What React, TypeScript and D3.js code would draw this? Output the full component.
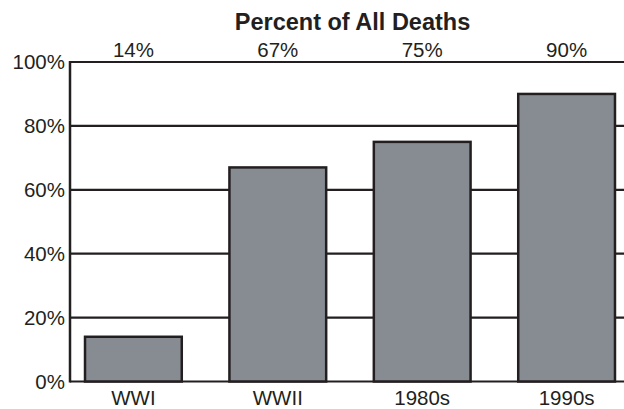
import React, { useEffect, useRef } from 'react';
import * as d3 from 'd3';

const categories = ['WWI', 'WWII', '1980s', '1990s'];
const percents = [14, 67, 75, 90];
const yTicks = [0, 20, 40, 60, 80, 100];
const chartTitle = 'Percent of All Deaths';

const W = 624;
const H = 409;

export default function App() {
  const svgRef = useRef<SVGSVGElement>(null);

  useEffect(() => {
    const svg = d3.select(svgRef.current);
    svg.selectAll('*').remove();

    const left = 70;
    const top = 62;
    const bottom = 381.5;
    const ink = '#231f20';
    const font = 'Liberation Sans, Arial, Helvetica, sans-serif';
    const fs = 20.5;

    const y = d3.scaleLinear().domain([0, 100]).range([bottom, top]);
    const x = d3.scaleBand<string>()
      .domain(categories)
      .range([left, left + 560])
      .paddingInner(0.33)
      .paddingOuter(0.104);

    // grid lines across the whole width
    svg.append('g')
      .selectAll('line')
      .data(yTicks)
      .join('line')
      .attr('x1', left)
      .attr('x2', W)
      .attr('y1', d => y(d))
      .attr('y2', d => y(d))
      .attr('stroke', ink)
      .attr('stroke-width', 2.2);

    // left axis
    svg.append('line')
      .attr('x1', left).attr('x2', left)
      .attr('y1', top - 1).attr('y2', bottom + 1)
      .attr('stroke', ink)
      .attr('stroke-width', 2.5);

    // y tick labels
    svg.append('g')
      .selectAll('text')
      .data(yTicks)
      .join('text')
      .attr('x', left - 5)
      .attr('y', d => y(d) + 7)
      .attr('text-anchor', 'end')
      .attr('font-family', font)
      .attr('font-size', fs)
      .attr('fill', ink)
      .text(d => `${d}%`);

    // bars
    svg.append('g')
      .selectAll('rect')
      .data(percents)
      .join('rect')
      .attr('x', (d, i) => x(categories[i])!)
      .attr('y', d => y(d))
      .attr('width', x.bandwidth())
      .attr('height', d => bottom - y(d))
      .attr('fill', '#878c92')
      .attr('stroke', ink)
      .attr('stroke-width', 2.5);

    // value labels above the plot
    svg.append('g')
      .selectAll('text')
      .data(percents)
      .join('text')
      .attr('x', (d, i) => x(categories[i])! + x.bandwidth() / 2)
      .attr('y', 57)
      .attr('text-anchor', 'middle')
      .attr('font-family', font)
      .attr('font-size', fs)
      .attr('fill', ink)
      .text(d => `${d}%`);

    // category labels
    svg.append('g')
      .selectAll('text')
      .data(categories)
      .join('text')
      .attr('x', d => x(d)! + x.bandwidth() / 2)
      .attr('y', 405)
      .attr('text-anchor', 'middle')
      .attr('font-family', font)
      .attr('font-size', fs)
      .attr('fill', ink)
      .text(d => d);

    // title
    svg.append('text')
      .attr('x', 352.5)
      .attr('y', 29.5)
      .attr('text-anchor', 'middle')
      .attr('font-family', font)
      .attr('font-size', 23.5)
      .attr('font-weight', 'bold')
      .attr('fill', ink)
      .text(chartTitle);
  }, []);

  return (
    <svg
      ref={svgRef}
      width={W}
      height={H}
      style={{ position: 'absolute', left: 0, top: 0, background: '#fff' }}
    />
  );
}
